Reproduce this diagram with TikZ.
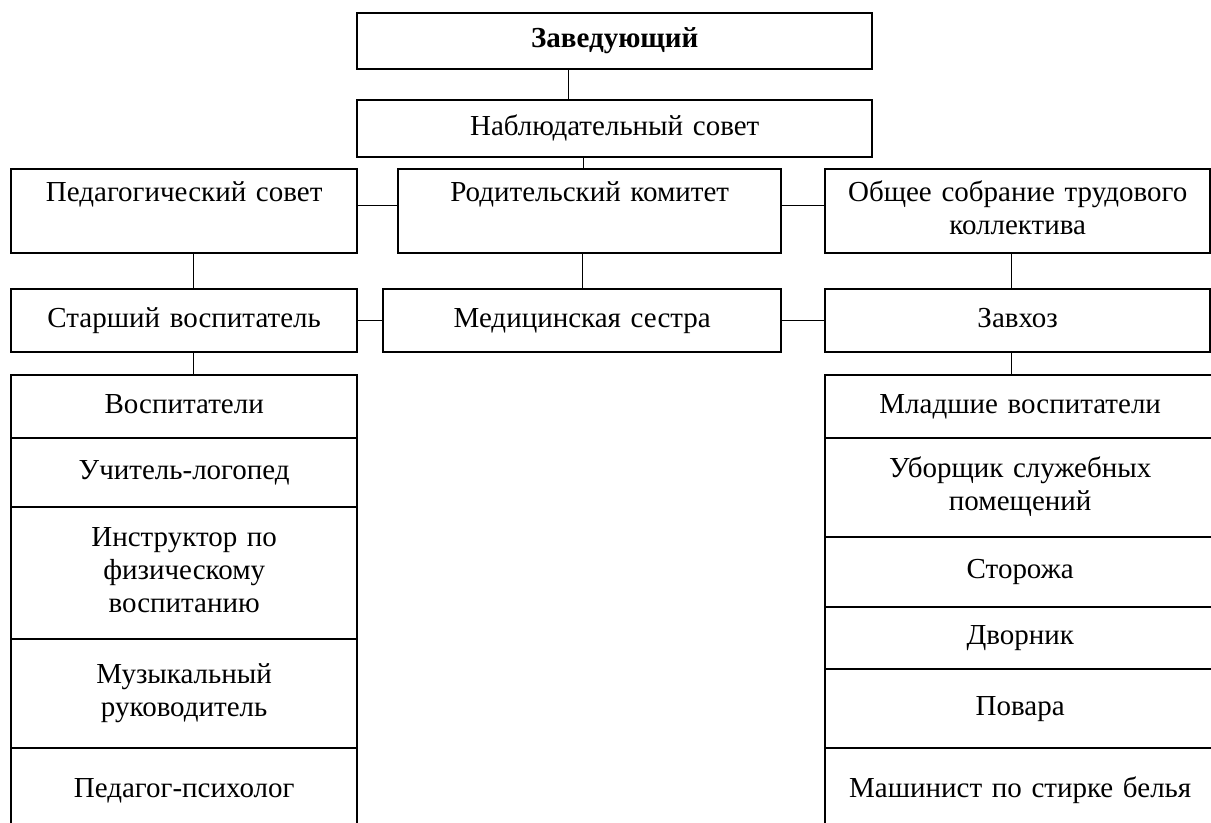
\documentclass[tikz,border=0pt]{standalone}
\usepackage{fontspec}
\setmainfont{Liberation Serif}

\begin{document}
\begin{tikzpicture}[x=0.5pt,y=-0.5pt,
  box/.style n args={2}{draw, line width=1.2pt, inner sep=0pt, anchor=north west,
    align=center, text width=#1, minimum height=#2,
    execute at begin node=\strut, execute at end node=\strut},
  link/.style={line width=0.5pt},
  font=\fontsize{14.5}{16.5}\selectfont]
\useasboundingbox (0,0) rectangle (1211,823);
\clip (0,0) rectangle (1211,823);

% top
\node[box={257.5pt}{28pt}] (zav) at (356,12) {\textbf{Заведующий}};
\node[box={257.5pt}{28.5pt}] (nab) at (356,99) {Наблюдательный совет};

% councils
\node[box={173pt}{42pt}] (ped) at (10,168) {Педагогический совет\\ \mbox{}};
\node[box={191.5pt}{42pt}] (rod) at (397,168) {Родительский комитет\\ \mbox{}};
\node[box={192.5pt}{42pt}] (obs) at (824,168) {Общее собрание трудового\\ коллектива};

% second row
\node[box={173pt}{31.5pt}] (star) at (10,288) {Старший воспитатель};
\node[box={199pt}{31.5pt}] (med) at (382,288) {Медицинская сестра};
\node[box={192.5pt}{31.5pt}] (zavhoz) at (824,288) {Завхоз};

% left column
\node[box={173pt}{31.5pt}] (vosp) at (10,374) {Воспитатели};
\node[box={173pt}{34.5pt}] (logo) at (10,437) {Учитель-логопед};
\node[box={173pt}{66pt}] (instr) at (10,506) {Инструктор по\\ физическому\\ воспитанию};
\node[box={173pt}{54.5pt}] (muz) at (10,638) {Музыкальный\\ руководитель};
\node[box={173pt}{43pt}] (psy) at (10,747) {Педагог-психолог};

% right column
\node[box={195pt}{31.5pt}] (mlad) at (824,374) {Младшие воспитатели};
\node[box={195pt}{49.5pt}] (ubor) at (824,437) {Уборщик служебных\\ помещений};
\node[box={195pt}{35pt}] (storo) at (824,536) {Сторожа};
\node[box={195pt}{31pt}] (dvor) at (824,606) {Дворник};
\node[box={195pt}{39.5pt}] (povar) at (824,668) {Повара};
\node[box={195pt}{43pt}] (mash) at (824,747) {Машинист по стирке белья};

% links
\draw[link] ([xshift=-23.25pt]zav.south) -- ([xshift=-23.25pt]zav.south |- nab.north);
\draw[link] ([xshift=-15.75pt]nab.south) -- ([xshift=-15.75pt]nab.south |- rod.north);
\draw[link] ([yshift=3pt]ped.east) -- ([yshift=3pt]rod.west);
\draw[link] ([yshift=3pt]rod.east) -- ([yshift=3pt]obs.west);
\draw[link] ([xshift=4.5pt]ped.south) -- ([xshift=4.5pt]star.north);
\draw[link] (med.north |- rod.south) -- (med.north);
\draw[link] ([xshift=-3.25pt]obs.south) -- ([xshift=-3.25pt]zavhoz.north);
\draw[link] (star.east) -- (med.west);
\draw[link] (med.east) -- (zavhoz.west);
\draw[link] ([xshift=4.5pt]star.south) -- ([xshift=4.5pt]vosp.north);
\draw[link] ([xshift=-3.25pt]zavhoz.south) -- ([xshift=-3.25pt]zavhoz.south |- mlad.north);
\end{tikzpicture}
\end{document}
